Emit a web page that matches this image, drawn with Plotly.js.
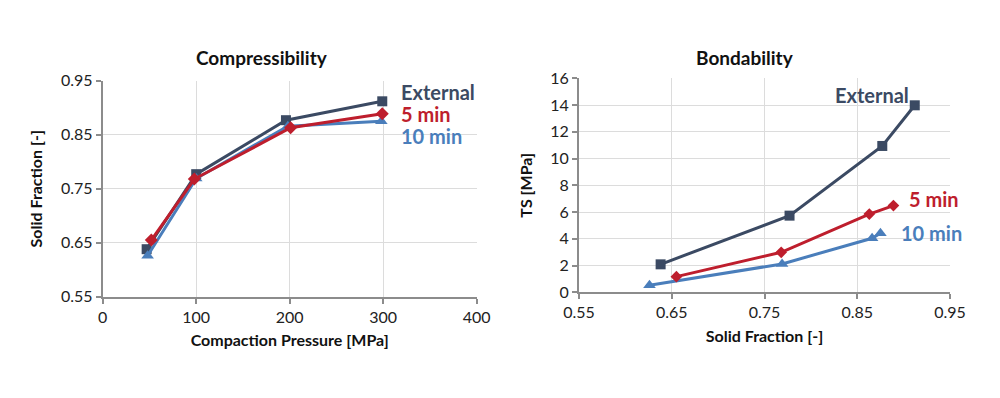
<!DOCTYPE html>
<html><head><meta charset="utf-8">
<script src="https://cdn.plot.ly/plotly-3.0.1.min.js"></script>
<style>html,body{margin:0;padding:0;background:#fff}#c{width:1000px;height:398px}</style>
</head><body><div id="c"></div>
<script>
// Compressibility: compaction pressure [MPa] vs solid fraction
const pressExternal = [47, 100, 196, 299];
const sfExternal = [0.638, 0.777, 0.877, 0.912];
const press5 = [52, 98, 201, 299];
const sf5 = [0.655, 0.768, 0.863, 0.889];
const press10 = [48, 100, 198, 298];
const sf10 = [0.626, 0.769, 0.866, 0.875];
// Bondability: solid fraction vs tensile strength [MPa]
const tsExternal = [2.09, 5.73, 10.94, 13.98];
const ts5 = [1.17, 2.99, 5.85, 6.48];
const ts10 = [0.52, 2.12, 4.04, 4.41];
const seriesNames = ["External", "5 min", "10 min"];
const colors = ["#3B4A63", "#BE1E2D", "#4A7EBB"];

const FONT = "Lato, 'Open Sans', sans-serif";
function tr(x, y, i, sym, size, xa, ya) {
  return {x: x, y: y, type: "scatter", mode: "lines+markers", name: seriesNames[i],
    xaxis: xa, yaxis: ya, cliponaxis: false,
    line: {color: colors[i], width: 3},
    marker: {symbol: sym, size: size, color: colors[i]}};
}
const data = [
  tr(pressExternal, sfExternal, 0, "square", 10, "x", "y"),
  tr(press10, sf10, 2, "triangle-up", 11, "x", "y"),
  tr(press5, sf5, 1, "diamond", 10, "x", "y"),
  tr(sfExternal, tsExternal, 0, "square", 10, "x2", "y2"),
  tr(sf10, ts10, 2, "triangle-up", 11, "x2", "y2"),
  tr(sf5, ts5, 1, "diamond", 9, "x2", "y2")
];
const axBase = {showline: true, linecolor: "#8c8c8c", linewidth: 2, ticks: "outside",
  ticklen: 5, tickcolor: "#8c8c8c", tickwidth: 2, gridcolor: "#dcdcdc", gridwidth: 1,
  zeroline: false, tickfont: {family: FONT, size: 16, color: "#222"}, mirror: false};
const tf = {family: FONT, size: 16, color: "#111", weight: "bold"};
function ann(text, x, ytop, xanchor, color, size) {
  return {text: text, xref: "paper", yref: "paper", x: x, y: (398 - ytop) / 398,
    xanchor: xanchor, yanchor: "middle", showarrow: false,
    font: {family: FONT, size: size, color: color, weight: "bold"}};
}
const layout = {
  width: 1000, height: 398, showlegend: false,
  paper_bgcolor: "#fff", plot_bgcolor: "#fff",
  margin: {l: 0, r: 0, t: 0, b: 0},
  xaxis: Object.assign({}, axBase, {domain: [0.1027, 0.4767], range: [0, 400], dtick: 100,
    anchor: "y", title: {text: "Compaction Pressure [MPa]", font: tf, standoff: 10}}),
  yaxis: Object.assign({}, axBase, {domain: [0.2545, 0.797], range: [0.55, 0.95], tick0: 0.55, dtick: 0.1,
    tickformat: ".2f", anchor: "x", title: {text: "Solid Fraction [-]", font: tf, standoff: 14}}),
  xaxis2: Object.assign({}, axBase, {domain: [0.579, 0.950], range: [0.55, 0.95], tick0: 0.55, dtick: 0.1,
    tickformat: ".2f", anchor: "y2", title: {text: "Solid Fraction [-]", font: tf, standoff: 10}}),
  yaxis2: Object.assign({}, axBase, {domain: [0.2656, 0.8033], range: [0, 16], dtick: 2,
    anchor: "x2", title: {text: "TS [MPa]", font: tf, standoff: 14}}),
  annotations: [
    ann("Compressibility", 0.262, 58, "center", "#111", 19),
    ann("Bondability", 0.745, 58, "center", "#111", 19),
    ann(seriesNames[0], 0.399, 92, "left", colors[0], 20),
    ann(seriesNames[1], 0.399, 114, "left", colors[1], 20),
    ann(seriesNames[2], 0.399, 136, "left", colors[2], 20),
    ann(seriesNames[0], 0.872, 95, "center", colors[0], 20),
    ann(seriesNames[1], 0.907, 199, "left", colors[1], 20),
    ann(seriesNames[2], 0.899, 233, "left", colors[2], 20)
  ]
};
Plotly.newPlot("c", data, layout, {staticPlot: true, displayModeBar: false});
</script>
</body></html>
